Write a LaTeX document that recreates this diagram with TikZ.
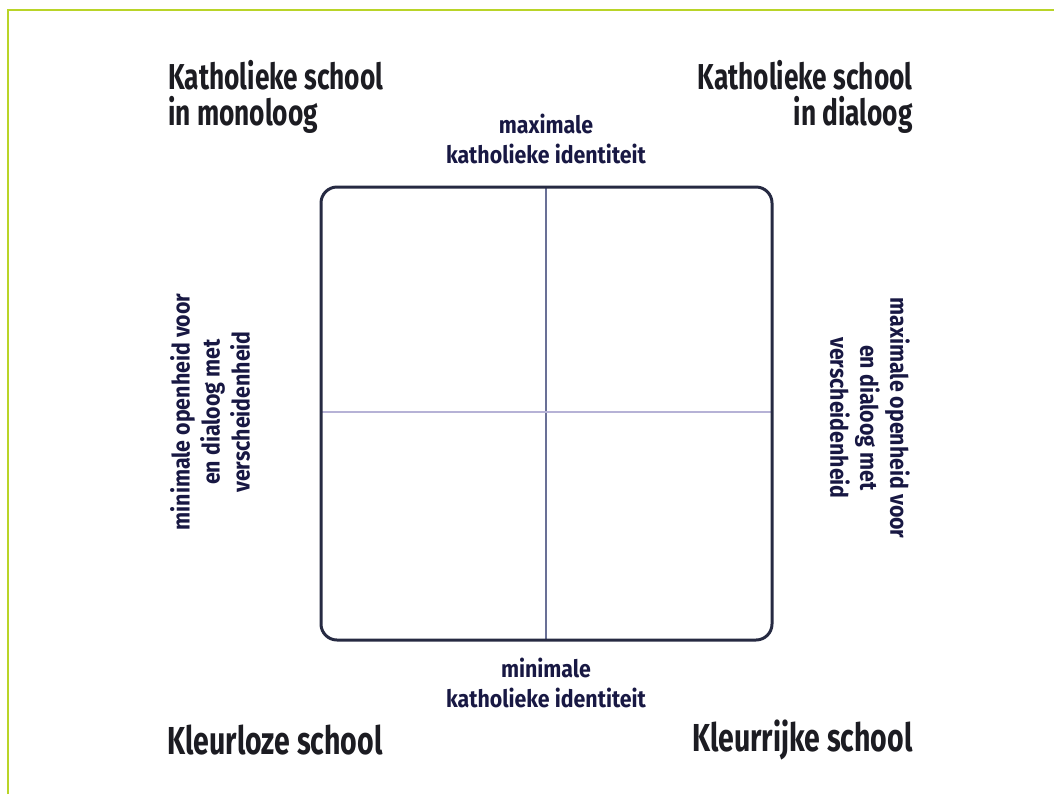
\documentclass[tikz,border=0pt]{standalone}
\usepackage{fontspec}
\setmainfont{Fira Sans}[FakeStretch=0.73]
\newfontfamily\axisfont{Fira Sans}[FakeStretch=0.89]

\definecolor{framegreen}{RGB}{185,212,40}
\definecolor{boxnavy}{RGB}{38,42,66}
\definecolor{axisblue}{RGB}{105,112,150}
\definecolor{axislilac}{RGB}{182,178,214}
\definecolor{inkdark}{RGB}{28,28,34}

\begin{document}
\begin{tikzpicture}[x=0.5pt, y=-0.5pt]

% styles
\pgfkeys{/quadtitle/.style={font=\fontsize{18}{18}\selectfont\bfseries, text=inkdark, inner sep=0}} % corner titles
\pgfkeys{/lowtitle/.style={/quadtitle, font=\fontsize{19.5}{20}\selectfont\bfseries}} % bottom titles run a bit larger
\pgfkeys{/axislab/.style={font=\axisfont\fontsize{12}{15}\selectfont\bfseries, text=inkdark!85!blue, inner sep=0, align=center}} % axis labels

\useasboundingbox (0,0) rectangle (1054,794);

% outer frame, only top and left show
\draw[framegreen, line width=1pt] (8,794) -- (8,10) -- (1054,10);

% the square with its two axes
\coordinate (nw) at (321,187);
\coordinate (se) at (772,640);
\coordinate (mid) at (546,412);
\draw[axisblue, line width=0.6pt] (mid|-nw) -- (mid|-se); % vertical axis
\draw[axislilac, line width=0.7pt] (mid-|nw) -- (mid-|se); % horizontal axis
\draw[boxnavy, line width=1.5pt, rounded corners=8pt] (nw) rectangle (se);

% corner titles
\node[/quadtitle, anchor=north west, align=left] (monoloog) at (168,60) {Katholieke school\\in monoloog};
\node[/quadtitle, anchor=north east, align=right] (dialoog) at (913,60) {Katholieke school\\in dialoog};
\node[/lowtitle, anchor=west] (kleurloos) at (167,740) {Kleurloze school};
\node[/lowtitle, anchor=east] (kleurrijk) at (913,740) {Kleurrijke school};

% axis labels
\node[/axislab] (maxkat) at (546,139) {maximale\\katholieke identiteit};
\node[/axislab] (minkat) at (546,683) {minimale\\katholieke identiteit};
\node[/axislab, rotate=90] (minopen) at (210,412) {minimale openheid voor\\en dialoog met\\verscheidenheid};
\node[/axislab, rotate=-90] (maxopen) at (870,418) {maximale openheid voor\\en dialoog met\\verscheidenheid};

\end{tikzpicture}
\end{document}
